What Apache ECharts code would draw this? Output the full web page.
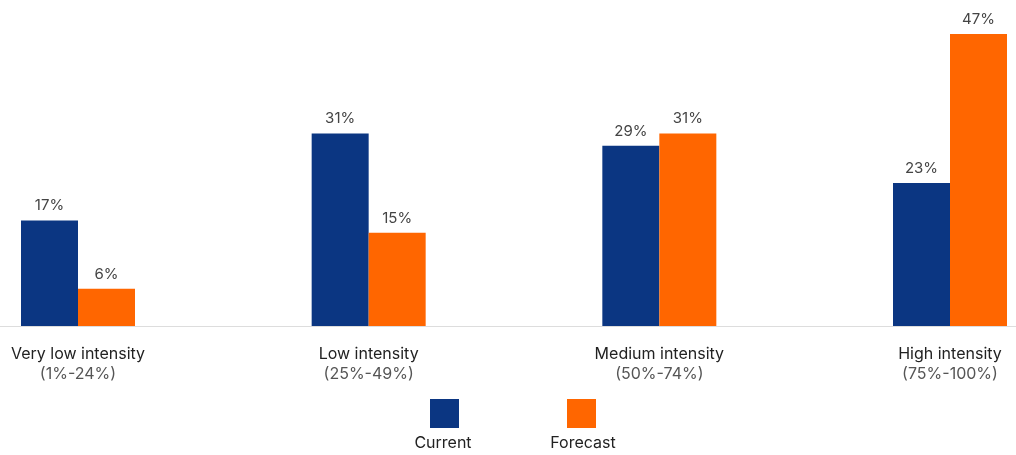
<!DOCTYPE html>
<html>
<head>
<meta charset="utf-8">
<script src="https://cdn.jsdelivr.net/npm/echarts@6/dist/echarts.min.js"></script>
<style>
  html, body { margin: 0; padding: 0; background: #fff; }
  #chart { width: 1016px; height: 455px; }
</style>
</head>
<body>
<div id="chart"></div>
<script>
// Intensity bands and their ranges
const categories = ['Very low intensity', 'Low intensity', 'Medium intensity', 'High intensity'];
const ranges = ['(1%-24%)', '(25%-49%)', '(50%-74%)', '(75%-100%)'];

// Share of respondents (%)
const currentValues = [17, 31, 29, 23];
const forecastValues = [6, 15, 31, 47];

const seriesNames = ['Current', 'Forecast'];
const colors = ['#0B3682', '#FF6600'];

const FONT = 'Inter, "Noto Sans", sans-serif';

const chart = echarts.init(document.getElementById('chart'), null, { renderer: 'canvas' });

const labelStyle = {
  show: true,
  position: 'top',
  distance: 7,
  formatter: p => p.value + '%',
  color: '#444',
  fontFamily: FONT,
  fontSize: 15
};

chart.setOption({
  animation: false,
  backgroundColor: '#fff',
  grid: [
    // bar grid: category ticks sit at the group centres
    { left: 78, right: 66, top: 34, bottom: 129, containLabel: false },
    // full-width grid that only carries the baseline
    { left: 0, right: 0, top: 34, bottom: 129, containLabel: false }
  ],
  xAxis: [
    {
      type: 'category',
      gridIndex: 0,
      boundaryGap: false,
      data: categories.map((c, i) => c + '\n' + ranges[i]),
      axisLine: { show: false },
      axisTick: { show: false },
      axisLabel: {
        margin: 18,
        interval: 0,
        formatter: v => {
          const parts = v.split('\n');
          return '{a|' + parts[0] + '}\n{b|' + parts[1] + '}';
        },
        rich: {
          a: { fontFamily: FONT, fontSize: 16, color: '#222', lineHeight: 20 },
          b: { fontFamily: FONT, fontSize: 16, color: '#555', lineHeight: 20 }
        }
      }
    },
    {
      type: 'value',
      gridIndex: 1,
      min: 0,
      max: 1,
      axisLine: { show: true, lineStyle: { color: '#dddddd', width: 1 } },
      axisTick: { show: false },
      axisLabel: { show: false },
      splitLine: { show: false }
    }
  ],
  yAxis: [
    { type: 'value', gridIndex: 0, min: 0, max: 47, show: false, splitLine: { show: false } },
    { type: 'value', gridIndex: 1, min: 0, max: 1, show: false, splitLine: { show: false } }
  ],
  series: [
    {
      name: seriesNames[0],
      type: 'bar',
      data: currentValues,
      barWidth: 57,
      barGap: '0%',
      z: 3,
      itemStyle: { color: colors[0] },
      label: labelStyle
    },
    {
      name: seriesNames[1],
      type: 'bar',
      data: forecastValues,
      barWidth: 57,
      barGap: '0%',
      z: 3,
      itemStyle: { color: colors[1] },
      label: labelStyle
    }
  ],
  graphic: [
    { type: 'rect', left: 430, top: 399, shape: { width: 29, height: 29 }, style: { fill: colors[0] } },
    { type: 'text', x: 443, y: 443, style: { text: seriesNames[0], fill: '#222', font: '16px ' + FONT, textAlign: 'center', textVerticalAlign: 'middle' } },
    { type: 'rect', left: 567, top: 399, shape: { width: 29, height: 29 }, style: { fill: colors[1] } },
    { type: 'text', x: 583, y: 443, style: { text: seriesNames[1], fill: '#222', font: '16px ' + FONT, textAlign: 'center', textVerticalAlign: 'middle' } }
  ]
});
</script>
</body>
</html>
